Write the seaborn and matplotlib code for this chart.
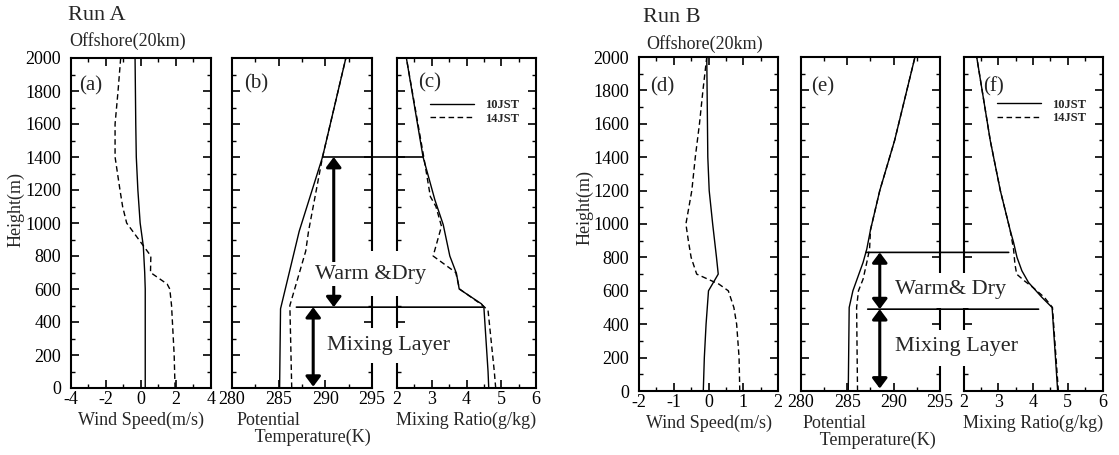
import matplotlib
matplotlib.use("Agg")
import matplotlib.pyplot as plt
import matplotlib.transforms as mtransforms
from matplotlib.patches import ConnectionPatch, Rectangle
from matplotlib.ticker import MultipleLocator
import pandas as pd
import seaborn as sns

# ---------------- profiles (height in m) ----------------
times = ["10JST", "14JST"]

# Run A, wind speed (m/s)
a_wind_h10 = [0, 600, 700, 860, 1000, 1200, 1400, 1600, 2000]
a_wind_10 = [0.25, 0.25, 0.22, 0.14, -0.04, -0.17, -0.26, -0.29, -0.33]
a_wind_h14 = [0, 200, 400, 500, 600, 630, 700, 800, 1000, 1100, 1200, 1400, 1600, 1800, 2000]
a_wind_14 = [1.95, 1.9, 1.8, 1.75, 1.65, 1.5, 0.55, 0.57, -0.81, -1.04, -1.19, -1.47, -1.47, -1.3, -1.15]

# Run A, potential temperature (K)
a_theta_h10 = [0, 480, 950, 1400, 2000]
a_theta_10 = [285.1, 285.2, 287.2, 289.7, 292.2]
a_theta_h14 = [0, 500, 830, 950, 1400, 2000]
a_theta_14 = [286.4, 286.2, 287.9, 288.2, 289.7, 292.2]

# Run A, mixing ratio (g/kg)
a_q_h10 = [0, 100, 490, 510, 600, 695, 800, 990, 1140, 1400, 2000]
a_q_10 = [4.64, 4.62, 4.5, 4.43, 3.79, 3.71, 3.52, 3.33, 3.09, 2.75, 2.27]
a_q_h14 = [0, 100, 470, 500, 600, 700, 800, 980, 1100, 1160, 1400, 2000]
a_q_14 = [4.84, 4.8, 4.62, 4.47, 3.8, 3.69, 3.04, 3.28, 3.12, 2.96, 2.77, 2.27]

# Run B, wind speed (m/s)
b_wind_h10 = [0, 200, 400, 600, 700, 800, 1000, 1200, 1400, 2000]
b_wind_10 = [-0.15, -0.12, -0.07, 0.0, 0.28, 0.23, 0.12, 0.02, -0.02, -0.05]
b_wind_h14 = [0, 200, 400, 500, 600, 640, 700, 800, 900, 1000, 1200, 1400, 1600, 1800, 2000]
b_wind_14 = [0.9, 0.88, 0.81, 0.73, 0.57, 0.3, -0.34, -0.5, -0.58, -0.65, -0.48, -0.38, -0.26, -0.16, -0.05]

# Run B, potential temperature (K)
b_theta_h10 = [0, 500, 600, 770, 850, 965, 1200, 1500, 2000]
b_theta_10 = [285.1, 285.2, 285.6, 286.7, 287.1, 287.5, 288.5, 290.1, 292.3]
b_theta_h14 = [0, 500, 600, 670, 770, 850, 965, 1200, 1500, 2000]
b_theta_14 = [286.1, 286.0, 286.2, 286.7, 287.1, 287.4, 287.5, 288.5, 290.1, 292.3]

# Run B, mixing ratio (g/kg)
b_q_h10 = [0, 500, 560, 650, 720, 800, 890, 965, 1200, 1500, 2000]
b_q_10 = [4.71, 4.55, 4.26, 3.87, 3.68, 3.54, 3.44, 3.34, 3.06, 2.77, 2.38]
b_q_h14 = [0, 500, 560, 620, 660, 700, 760, 850, 965, 1200, 1500, 2000]
b_q_14 = [4.73, 4.56, 4.33, 4.0, 3.75, 3.53, 3.48, 3.44, 3.34, 3.06, 2.77, 2.38]

# layer tops (m)
a_mixing_top, a_warm_top = 490, 1400
b_mixing_top, b_warm_top = 490, 830

# ---------------- style ----------------
sns.set_style("ticks", rc={
    "xtick.direction": "in", "ytick.direction": "in",
    "xtick.top": True, "ytick.right": True,
})
plt.rcParams.update({
    "font.family": ["Liberation Serif", "DejaVu Serif"],
    "axes.unicode_minus": False,
    "axes.linewidth": 1.5,
    "axes.edgecolor": "black",
    "xtick.color": "black", "ytick.color": "black",
    "xtick.major.size": 6, "xtick.minor.size": 3,
    "ytick.major.size": 6, "ytick.minor.size": 3,
    "xtick.major.width": 1.2, "xtick.minor.width": 1.0,
    "ytick.major.width": 1.2, "ytick.minor.width": 1.0,
    "xtick.labelsize": 13, "ytick.labelsize": 13,
    "xtick.major.pad": 2.5, "ytick.major.pad": 7,
})

W, H = 1119, 455
fig = plt.figure(figsize=(W / 100, H / 100), dpi=100)
fig.patch.set_facecolor("white")


def add_px_axes(x0, x1, top, bottom):
    return fig.add_axes([x0 / W, 1 - bottom / H, (x1 - x0) / W, (bottom - top) / H])


def profile_frame(h10, v10, h14, v14):
    return pd.DataFrame({
        "height": list(h10) + list(h14),
        "value": list(v10) + list(v14),
        "time": [times[0]] * len(h10) + [times[1]] * len(h14),
    })


def draw_panel(ax, df, xlim, xmajor, xminor, letter, letter_xy, show_y):
    sns.lineplot(data=df, x="value", y="height", style="time",
                 dashes={times[0]: "", times[1]: (4, 2.5)},
                 color="black", lw=1.0, estimator=None, sort=False,
                 orient="y", legend=False, ax=ax)
    ax.set_xlim(*xlim)
    ax.set_ylim(0, 2000)
    ax.xaxis.set_major_locator(MultipleLocator(xmajor))
    ax.xaxis.set_minor_locator(MultipleLocator(xminor))
    ax.yaxis.set_major_locator(MultipleLocator(200))
    ax.yaxis.set_minor_locator(MultipleLocator(100))
    ax.tick_params(which="both", top=True, right=True, direction="in")
    if not show_y:
        ax.tick_params(axis="y", labelleft=False)
        ax.set_ylabel("")
    else:
        ax.set_ylabel("Height(m)", fontsize=13)
    ax.text(letter_xy[0], letter_xy[1], letter, transform=ax.transAxes,
            fontsize=15, ha="left", va="top")
    for s in ax.spines.values():
        s.set_linewidth(1.5)


def add_legend(ax):
    ax.legend(handles=ax.lines[:2], labels=times, loc="upper left",
              bbox_to_anchor=(0.24, 0.875), frameon=False,
              prop={"size": 9, "weight": "bold"}, handlelength=3.5,
              handletextpad=0.9, labelspacing=0.12, borderpad=0,
              borderaxespad=0)


def set_xlabel(ax, text, x, ha):
    ax.set_xlabel(text, fontsize=13, ha=ha, linespacing=1.0)
    ax.xaxis.set_label_coords(x, -0.072)


def layer_arrow(ax, x, y0, y1):
    ax.annotate("", xy=(x, y1), xytext=(x, y0),
                arrowprops=dict(arrowstyle="<|-|>,head_length=0.6,head_width=0.45",
                                lw=2.2, color="black", shrinkA=0, shrinkB=0,
                                mutation_scale=10),
                annotation_clip=False)


def layer_line(ax_l, x_l, ax_r, x_r, y):
    con = ConnectionPatch(xyA=(x_l, y), coordsA=ax_l.transData,
                          xyB=(x_r, y), coordsB=ax_r.transData,
                          color="black", lw=1.2, zorder=2)
    fig.add_artist(con)


def spine_gap(ax_l, ax_r, y_lo, y_hi):
    trans = mtransforms.blended_transform_factory(fig.transFigure, ax_l.transData)
    x0 = ax_l.get_position().x1 - 10 / W
    x1 = ax_r.get_position().x0 + 10 / W
    fig.add_artist(Rectangle((x0, y_lo), x1 - x0, y_hi - y_lo, transform=trans,
                             facecolor="white", edgecolor="none", zorder=2.5))


def layer_text(ax, x, y, s):
    fig.text(x, y, s, transform=ax.transData, fontsize=16, ha="center",
             va="center", zorder=3,
             bbox=dict(boxstyle="square,pad=0.12", fc="white", ec="none"))


# ---------------- Run A ----------------
ax_a = add_px_axes(70.7, 211, 58, 388)
ax_b = add_px_axes(232, 372, 58, 388)
ax_c = add_px_axes(397, 536, 58, 388)

draw_panel(ax_a, profile_frame(a_wind_h10, a_wind_10, a_wind_h14, a_wind_14),
           (-4, 4), 2, 1, "(a)", (0.06, 0.945), True)
draw_panel(ax_b, profile_frame(a_theta_h10, a_theta_10, a_theta_h14, a_theta_14),
           (280, 295), 5, 2.5, "(b)", (0.09, 0.95), False)
draw_panel(ax_c, profile_frame(a_q_h10, a_q_10, a_q_h14, a_q_14),
           (2, 6), 1, 0.5, "(c)", (0.15, 0.955), False)
add_legend(ax_c)
ax_a.yaxis.set_label_coords(-0.33, 0.54)
set_xlabel(ax_a, "Wind Speed(m/s)", 0.5, "center")
set_xlabel(ax_b, "Potential\n    Temperature(K)", 0.035, "left")
set_xlabel(ax_c, "Mixing Ratio(g/kg)", 0.5, "center")

layer_line(ax_b, 289.7, ax_c, 2.75, a_warm_top)
layer_line(ax_b, 286.9, ax_c, 4.47, a_mixing_top)
layer_arrow(ax_b, 290.9, a_mixing_top, a_warm_top)
layer_arrow(ax_b, 288.7, 8, a_mixing_top)
spine_gap(ax_b, ax_c, 560, 830)
spine_gap(ax_b, ax_c, 150, 365)
layer_text(ax_b, 294.8, 690, "Warm &Dry")
layer_text(ax_b, 296.8, 258, "Mixing Layer")

fig.text(68 / W, 1 - 15 / H, "Run A", fontsize=16, ha="left", va="center")
fig.text(69 / W, 1 - 41 / H, "Offshore(20km)", fontsize=13, ha="left", va="center")

# ---------------- Run B ----------------
ax_d = add_px_axes(639, 778, 57, 391)
ax_e = add_px_axes(801, 940, 57, 391)
ax_f = add_px_axes(963.5, 1102.5, 57, 391)

draw_panel(ax_d, profile_frame(b_wind_h10, b_wind_10, b_wind_h14, b_wind_14),
           (-2, 2), 1, 0.5, "(d)", (0.08, 0.94), True)
draw_panel(ax_e, profile_frame(b_theta_h10, b_theta_10, b_theta_h14, b_theta_14),
           (280, 295), 5, 2.5, "(e)", (0.075, 0.94), False)
draw_panel(ax_f, profile_frame(b_q_h10, b_q_10, b_q_h14, b_q_14),
           (2, 6), 1, 0.5, "(f)", (0.14, 0.94), False)
add_legend(ax_f)
ax_d.yaxis.set_label_coords(-0.33, 0.548)
set_xlabel(ax_d, "Wind Speed(m/s)", 0.5, "center")
set_xlabel(ax_e, "Potential\n    Temperature(K)", 0.01, "left")
set_xlabel(ax_f, "Mixing Ratio(g/kg)", 0.5, "center")

layer_line(ax_e, 287.0, ax_f, 3.3, b_warm_top)
layer_line(ax_e, 287.2, ax_f, 4.16, b_mixing_top)
layer_arrow(ax_e, 288.5, b_mixing_top, b_warm_top)
layer_arrow(ax_e, 288.5, 15, b_mixing_top)
spine_gap(ax_e, ax_f, 500, 709)
spine_gap(ax_e, ax_f, 147, 368)
layer_text(ax_e, 296.1, 607, "Warm& Dry")
layer_text(ax_e, 296.8, 269, "Mixing Layer")

fig.text(643 / W, 1 - 17 / H, "Run B", fontsize=16, ha="left", va="center")
fig.text(646 / W, 1 - 44 / H, "Offshore(20km)", fontsize=13, ha="left", va="center")

fig.savefig("out.png", dpi=100, facecolor="white")
